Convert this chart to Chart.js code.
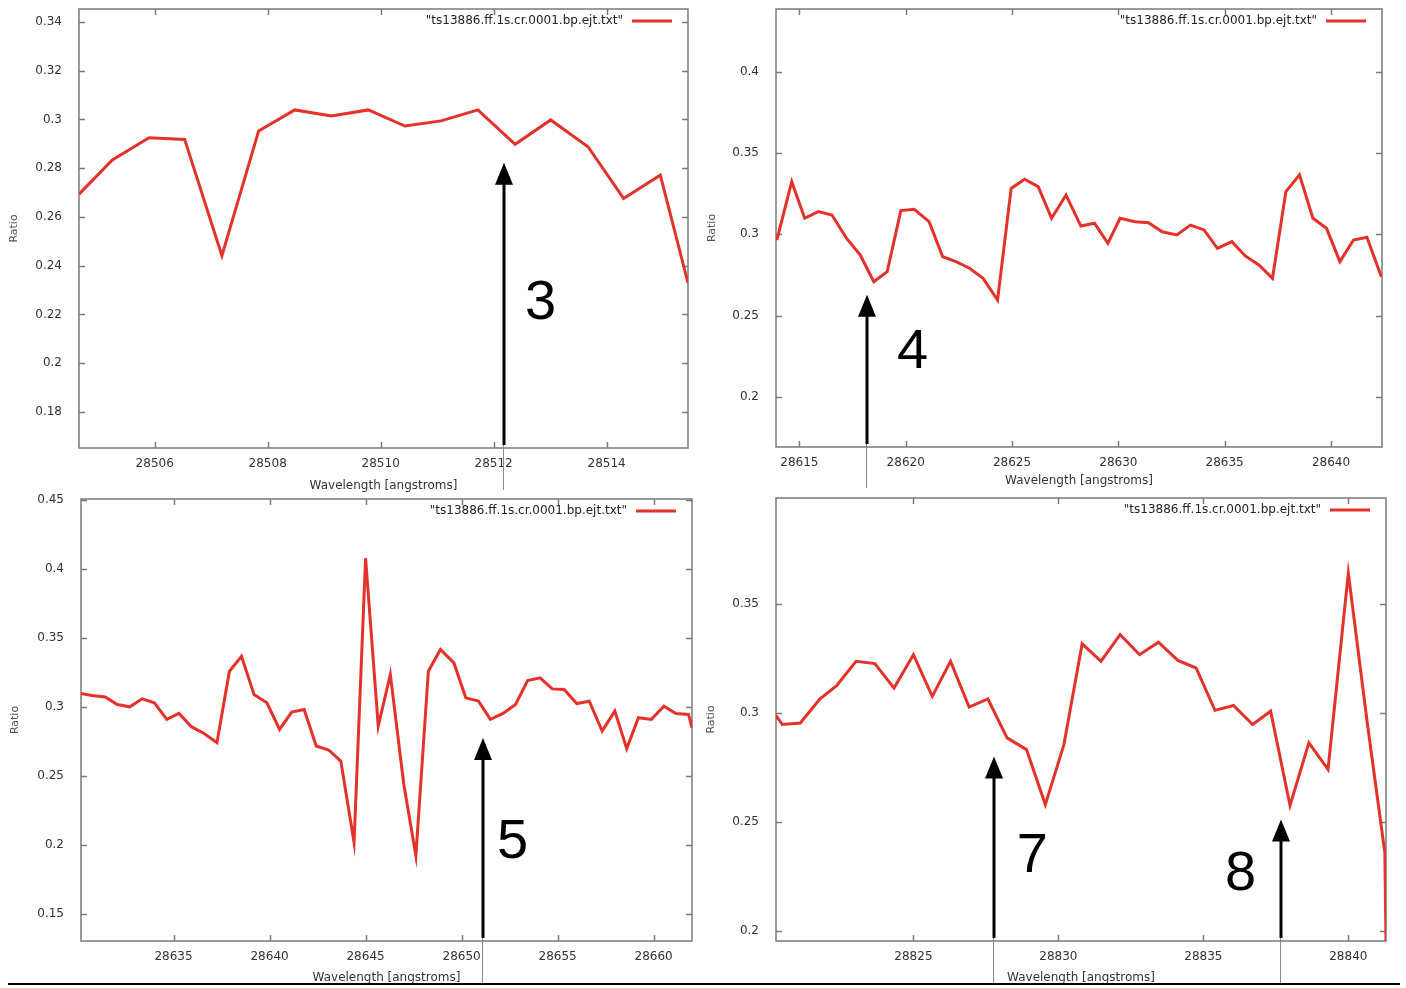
<!DOCTYPE html>
<html>
<head>
<meta charset="utf-8">
<script src="https://cdn.jsdelivr.net/npm/chart.js@4.4.1/dist/chart.umd.min.js"></script>
<style>
body{margin:0;background:#fff;width:1406px;height:988px;position:relative;overflow:hidden;}
canvas{position:absolute;}
#c1{left:0;top:0;} #c2{left:700px;top:0;} #c3{left:0;top:480px;} #c4{left:700px;top:480px;}
#rule{position:absolute;left:8px;top:983px;width:1392px;height:2px;background:#000;}
</style>
</head>
<body>
<canvas id="c1" width="700" height="495"></canvas>
<canvas id="c2" width="706" height="488"></canvas>
<canvas id="c3" width="700" height="508"></canvas>
<canvas id="c4" width="706" height="508"></canvas>
<div id="rule"></div>
<script>
const fileLabel='"ts13886.ff.1s.cr.0001.bp.ejt.txt"';

// panel 1
const wl1=[28504.66,28505.25,28505.90,28506.53,28507.19,28507.84,28508.48,28509.13,28509.78,28510.43,28511.07,28511.72,28512.38,28513.01,28513.67,28514.30,28514.95,28515.44];
const ratio1=[0.2693,0.2834,0.2925,0.2918,0.2441,0.2953,0.3039,0.3014,0.3039,0.2973,0.2994,0.3039,0.2898,0.2998,0.2888,0.2676,0.2771,0.2329];
const xTicks1=[28506,28508,28510,28512,28514];
const yTicks1=[0.18,0.2,0.22,0.24,0.26,0.28,0.3,0.32,0.34];

// panel 2
const wl2=[28613.94,28614.64,28615.25,28615.89,28616.53,28617.22,28617.86,28618.50,28619.13,28619.77,28620.40,28621.10,28621.74,28622.37,28623.00,28623.64,28624.32,28624.96,28625.59,28626.23,28626.86,28627.54,28628.24,28628.88,28629.51,28630.08,28630.78,28631.42,28632.06,28632.75,28633.39,28634.03,28634.66,28635.34,28635.97,28636.61,28637.25,28637.88,28638.52,28639.15,28639.79,28640.42,28641.06,28641.69,28642.37];
const ratio2=[0.2965,0.3324,0.3099,0.3140,0.3119,0.2975,0.2873,0.2708,0.2770,0.3146,0.3154,0.3078,0.2862,0.2832,0.2791,0.2729,0.2595,0.3283,0.3339,0.3294,0.3099,0.3242,0.3051,0.3068,0.2945,0.3099,0.3078,0.3072,0.3016,0.2996,0.3057,0.3027,0.2914,0.2955,0.2867,0.2811,0.2729,0.3263,0.3366,0.3099,0.3037,0.2832,0.2965,0.2982,0.2739];
const xTicks2=[28615,28620,28625,28630,28635,28640];
const yTicks2=[0.2,0.25,0.3,0.35,0.4];

// panel 3
const wl3=[28630.18,28630.74,28631.44,28632.07,28632.72,28633.37,28634.00,28634.65,28635.28,28635.93,28636.61,28637.26,28637.91,28638.54,28639.19,28639.86,28640.52,28641.15,28641.80,28642.43,28643.08,28643.71,28644.40,28645.00,28645.66,28646.29,28646.99,28647.62,28648.27,28648.90,28649.60,28650.22,28650.88,28651.50,28652.16,28652.81,28653.44,28654.09,28654.72,28655.34,28656.00,28656.65,28657.32,28657.98,28658.60,28659.21,28659.88,28660.54,28661.16,28661.82,28662.00];
const ratio3=[0.3098,0.3083,0.3073,0.3018,0.3001,0.3059,0.3030,0.2910,0.2953,0.2857,0.2806,0.2741,0.3259,0.3367,0.3090,0.3030,0.2837,0.2963,0.2982,0.2717,0.2688,0.2608,0.2018,0.4078,0.2861,0.3235,0.2440,0.1922,0.3259,0.3416,0.3319,0.3066,0.3042,0.2910,0.2953,0.3018,0.3192,0.3211,0.3131,0.3127,0.3025,0.3042,0.2825,0.2970,0.2698,0.2922,0.2910,0.3006,0.2953,0.2946,0.2850];
const xTicks3=[28635,28640,28645,28650,28655,28660];
const yTicks3=[0.15,0.2,0.25,0.3,0.35,0.4,0.45];

// panel 4
const wl4=[28820.26,28820.48,28821.10,28821.77,28822.35,28823.02,28823.67,28824.33,28825.00,28825.65,28826.28,28826.92,28827.57,28828.23,28828.90,28829.55,28830.19,28830.82,28831.47,28832.13,28832.80,28833.45,28834.12,28834.75,28835.40,28836.04,28836.70,28837.32,28837.99,28838.64,28839.30,28840.00,28840.64,28841.26,28841.30];
const ratio4=[0.2988,0.2947,0.2954,0.3064,0.3125,0.3237,0.3226,0.3114,0.3267,0.3076,0.3237,0.3027,0.3064,0.2886,0.2832,0.2580,0.2855,0.3317,0.3237,0.3359,0.3267,0.3324,0.3241,0.3206,0.3012,0.3034,0.2947,0.3008,0.2576,0.2863,0.2741,0.3641,0.2969,0.2359,0.1955];
const xTicks4=[28825,28830,28835,28840];
const yTicks4=[0.2,0.25,0.3,0.35];

// marked lines: arrow position, arrow tip, label and label position (data units)
const marks1=[{x:28512.19,tip:0.2822,text:'3',tx:28512.83,ty:0.2244}];
const marks2=[{x:28618.2,tip:0.2628,text:'4',tx:28620.32,ty:0.2271}];
const marks3=[{x:28651.1,tip:0.2775,text:'5',tx:28652.66,ty:0.2014}];
const marks4=[{x:28827.79,tip:0.28,text:'7',tx:28829.1,ty:0.2343},{x:28837.69,tip:0.2512,text:'8',tx:28836.28,ty:0.226}];

Chart.defaults.font.family='"DejaVu Sans", sans-serif';
Chart.defaults.font.size=12;
Chart.defaults.color='#333';

const gnuplot={
  id:'gnuplot',
  beforeDatasetsDraw(chart){
    const {ctx,chartArea:a,scales:{x,y}}=chart;
    ctx.save();
    ctx.strokeStyle='#7a7a7a';ctx.lineWidth=1.5;
    ctx.strokeRect(a.left,a.top,a.right-a.left,a.bottom-a.top);
    ctx.beginPath();
    x.ticks.forEach(t=>{const p=Math.round(x.getPixelForValue(t.value))+0.5;
      ctx.moveTo(p,a.bottom);ctx.lineTo(p,a.bottom-6);ctx.moveTo(p,a.top);ctx.lineTo(p,a.top+6);});
    y.ticks.forEach(t=>{const p=Math.round(y.getPixelForValue(t.value))+0.5;
      ctx.moveTo(a.left,p);ctx.lineTo(a.left+6,p);ctx.moveTo(a.right,p);ctx.lineTo(a.right-6,p);});
    ctx.stroke();
    ctx.restore();
  },
  afterDraw(chart,args,opts){
    const {ctx,chartArea:a,scales:{x,y}}=chart;
    const ds=chart.data.datasets[0];
    ctx.save();
    // key
    const ky=a.top+12;
    ctx.font='12px "DejaVu Sans"';ctx.fillStyle='#222';ctx.textAlign='right';ctx.textBaseline='middle';
    ctx.fillText(ds.label,a.right-65,ky);
    ctx.strokeStyle=ds.borderColor;ctx.lineWidth=3;
    ctx.beginPath();ctx.moveTo(a.right-56,ky);ctx.lineTo(a.right-16,ky);ctx.stroke();
    // arrows
    (opts.marks||[]).forEach(m=>{
      const ax=Math.round(x.getPixelForValue(m.x));
      const ty=y.getPixelForValue(m.tip);
      ctx.strokeStyle='#8a8a8a';ctx.lineWidth=1;
      ctx.beginPath();ctx.moveTo(ax-0.5,a.bottom-4);ctx.lineTo(ax-0.5,a.bottom+42);ctx.stroke();
      ctx.strokeStyle='#000';ctx.lineWidth=3;
      ctx.beginPath();ctx.moveTo(ax,a.bottom-3);ctx.lineTo(ax,ty+15);ctx.stroke();
      ctx.fillStyle='#000';
      ctx.beginPath();ctx.moveTo(ax,ty);ctx.lineTo(ax-9,ty+22);ctx.lineTo(ax+9,ty+22);ctx.closePath();ctx.fill();
      ctx.font='56px "Liberation Sans", Arial, sans-serif';ctx.textAlign='center';ctx.textBaseline='middle';
      ctx.fillText(m.text,x.getPixelForValue(m.tx),y.getPixelForValue(m.ty));
    });
    ctx.restore();
  }
};

const fmt=v=>String(parseFloat(v.toFixed(4)));

function makeChart(id,wl,ratio,xr,yr,xt,yt,box,marks){
  const ctx=document.getElementById(id).getContext('2d');
  return new Chart(ctx,{
    type:'line',
    data:{datasets:[{label:fileLabel,data:wl.map((w,i)=>({x:w,y:ratio[i]})),borderColor:'#e4322b',borderWidth:3,pointRadius:0,tension:0,fill:false}]},
    options:{
      responsive:false,animation:false,devicePixelRatio:1,
      layout:{padding:{left:0,top:box.pt,right:box.pr,bottom:0}},
      plugins:{legend:{display:false},tooltip:{enabled:false},gnuplot:{marks:marks}},
      scales:{
        x:{type:'linear',min:xr[0],max:xr[1],
          grid:{display:false},border:{display:false},
          afterBuildTicks:s=>{s.ticks=xt.map(v=>({value:v}));},
          afterFit:s=>{s.height=box.xh;s.paddingLeft=0;s.paddingRight=0;},
          ticks:{callback:v=>String(v),maxRotation:0,autoSkip:false,padding:1,color:'#333'},
          title:{display:true,text:'Wavelength [angstroms]',color:'#333',font:{size:12},padding:{top:0,bottom:box.tb}}},
        y:{type:'linear',min:yr[0],max:yr[1],
          grid:{display:false},border:{display:false},
          afterBuildTicks:s=>{s.ticks=yt.map(v=>({value:v}));},
          afterFit:s=>{s.width=box.yw;s.paddingTop=0;s.paddingBottom=0;},
          ticks:{callback:fmt,padding:9,color:'#333'},
          title:{display:true,text:'Ratio',color:'#555',font:{size:11},padding:{top:box.rp,bottom:0}}}
      }
    },
    plugins:[gnuplot]
  });
}

makeChart('c1',wl1,ratio1,[28504.66,28515.44],[0.1652,0.3453],xTicks1,yTicks1,{pt:9,pr:12,yw:79,xh:47,tb:2,rp:8},marks1);
makeChart('c2',wl2,ratio2,[28613.9,28642.4],[0.169,0.4388],xTicks2,yTicks2,{pt:9,pr:24,yw:76,xh:41,tb:0,rp:6},marks2);
makeChart('c3',wl3,ratio3,[28630.18,28662.0],[0.1304,0.4507],xTicks3,yTicks3,{pt:19,pr:8,yw:81,xh:47,tb:3,rp:9},marks3);
makeChart('c4',wl4,ratio4,[28820.26,28841.3],[0.1955,0.3985],xTicks4,yTicks4,{pt:18,pr:20,yw:76,xh:47,tb:3,rp:5},marks4);
</script>
</body>
</html>
